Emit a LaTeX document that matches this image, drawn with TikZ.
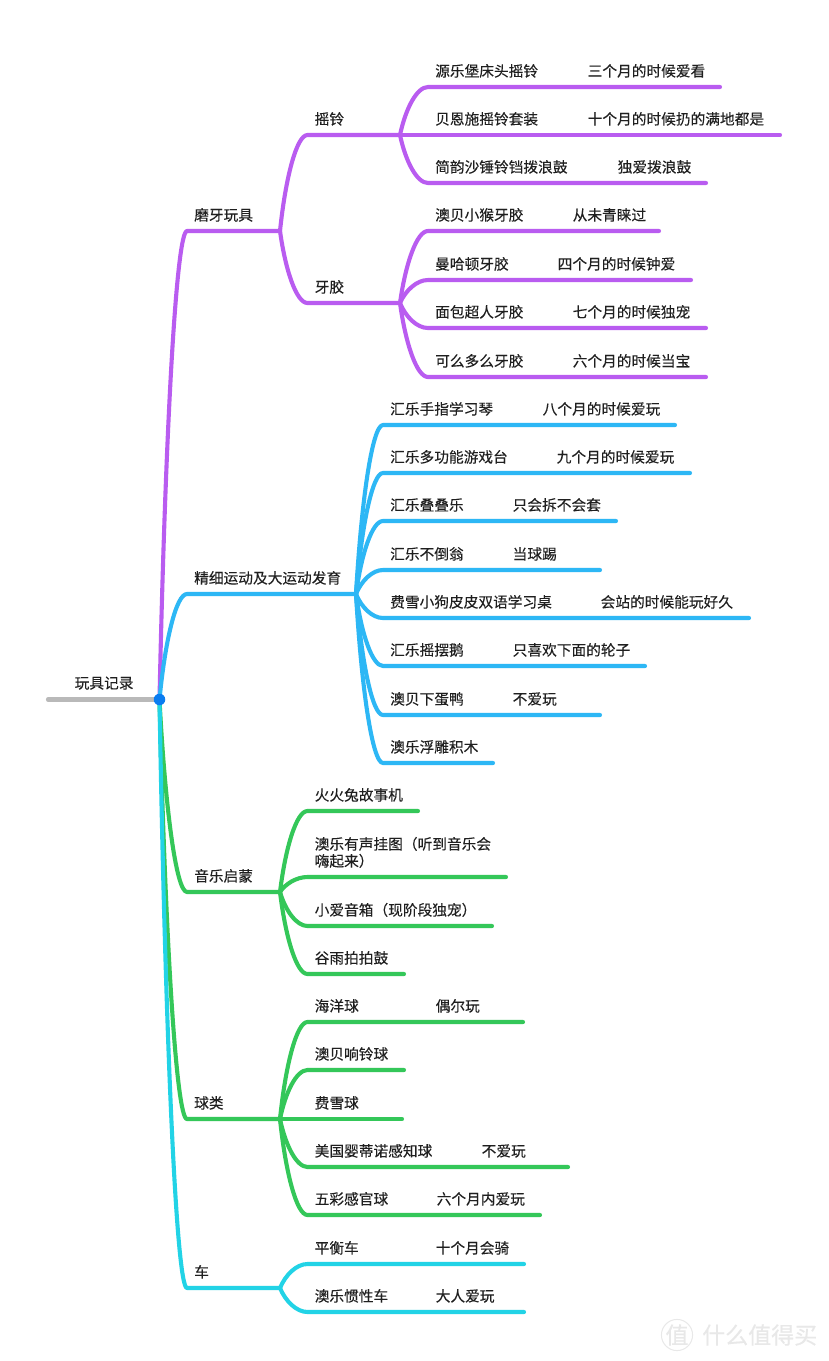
\documentclass[tikz,border=0pt]{standalone}
\usepackage{fontspec}
\setmainfont[FakeBold=0.15]{Noto Sans CJK SC}
\definecolor{grape}{HTML}{B95CF0}
\definecolor{sky}{HTML}{2DB7F5}
\definecolor{leaf}{HTML}{34C759}
\definecolor{aqua}{HTML}{22D3E6}
\definecolor{stem}{HTML}{B9B9B9}
\definecolor{hubblue}{HTML}{0A7CF0}
\definecolor{mark}{HTML}{E8E8E8}
\tikzset{
  bough/.style={line width=4.1pt,line cap=round,line join=round},
  lbl/.style={anchor=base west,inner sep=0pt,font=\fontsize{14.7}{17}\selectfont,text=black!88},
  hubdot/.style={circle,fill=hubblue,inner sep=0pt,minimum size=11.5pt},
  wm/.style={inner sep=0pt,font=\fontsize{23}{25}\selectfont,text=mark}
}
% name, parent, x start, x end, y, text
\newcommand{\Bough}[6]{%
  \coordinate (#1s) at (#3,#5);
  \coordinate (#1e) at (#4-1,#5);
  \draw[bough,twig] let \p1=(#2),\p2=(#1s) in (#2)
    .. controls ({\x1+0.2*(\x2-\x1)},{\y1+0.55*(\y2-\y1)}) and ({\x1+0.6*(\x2-\x1)},\y2) .. (#1s) -- (#1e);
  \node[lbl,align=left] (#1) at ($(#1s)+(7,-10.5)$) {#6};
}
% name of the bough, x, text
\newcommand{\Note}[3]{\node[lbl] (#1n) at (#2-0.5,0 |- #1.base) {#3};}
\usetikzlibrary{calc}
\begin{document}
\begin{tikzpicture}[x=1pt,y=-1pt]
\useasboundingbox (0,0) rectangle (828,1361);
\fill[white] (0,0) rectangle (828,1361);
% Root
\coordinate (hub) at (159.5,699.5);
\coordinate (rootend) at (48,699.5);
\draw[bough,stem] (rootend) -- (hub);
\node[lbl] (root) at (74.5,688.5) {玩具记录};
% Teething
\colorlet{twig}{grape}
\Bough{mo}{hub}{187}{281}{231}{磨牙玩具}
\Bough{yao}{moe}{307.5}{401}{135}{摇铃}
\Bough{ya}{moe}{307.5}{401}{303}{牙胶}
\Bough{a}{yaoe}{428}{721}{87}{源乐堡床头摇铃}
\Bough{b}{yaoe}{428}{781}{135}{贝恩施摇铃套装}
\Bough{c}{yaoe}{428}{707}{183}{简韵沙锤铃铛拨浪鼓}
\Bough{d}{yae}{428}{660}{231}{澳贝小猴牙胶}
\Bough{e}{yae}{428}{692}{280}{曼哈顿牙胶}
\Bough{f}{yae}{428}{707}{328}{面包超人牙胶}
\Bough{g}{yae}{428}{707}{377}{可么多么牙胶}
\Note{a}{588}{三个月的时候爱看}
\Note{b}{588}{十个月的时候扔的满地都是}
\Note{c}{618}{独爱拨浪鼓}
\Note{d}{573}{从未青睐过}
\Note{e}{558}{四个月的时候钟爱}
\Note{f}{573}{七个月的时候独宠}
\Note{g}{573}{六个月的时候当宝}
% Motor skills
\colorlet{twig}{sky}
\Bough{jing}{hub}{187}{357}{594}{精细运动及大运动发育}
\Bough{h}{jinge}{383}{676}{425}{汇乐手指学习琴}
\Bough{i}{jinge}{383}{691}{473}{汇乐多功能游戏台}
\Bough{j}{jinge}{383}{617}{521}{汇乐叠叠乐}
\Bough{k}{jinge}{383}{601}{570}{汇乐不倒翁}
\Bough{l}{jinge}{383}{750}{618}{费雪小狗皮皮双语学习桌}
\Bough{m}{jinge}{383}{646}{666}{汇乐摇摆鹅}
\Bough{n}{jinge}{383}{601}{715}{澳贝下蛋鸭}
\Bough{o}{jinge}{383}{494}{763}{澳乐浮雕积木}
\Note{h}{543}{八个月的时候爱玩}
\Note{i}{557}{九个月的时候爱玩}
\Note{j}{513}{只会拆不会套}
\Note{k}{513}{当球踢}
\Note{l}{601}{会站的时候能玩好久}
\Note{m}{513}{只喜欢下面的轮子}
\Note{n}{513}{不爱玩}
% Music
\colorlet{twig}{leaf}
\Bough{yin}{hub}{187}{281}{892}{音乐启蒙}
\Bough{p}{yine}{307.5}{419}{811}{火火兔故事机}
\Bough{q}{yine}{307.5}{507}{877}{澳乐有声挂图（听到音乐会\\嗨起来）}
\Bough{r}{yine}{307.5}{493}{926}{小爱音箱（现阶段独宠）}
\Bough{s}{yine}{307.5}{405}{974}{谷雨拍拍鼓}
% Balls
\Bough{qiu}{hub}{187}{281}{1119}{球类}
\Bough{t}{qiue}{307.5}{524}{1022}{海洋球}
\Bough{u}{qiue}{307.5}{405}{1070}{澳贝响铃球}
\Bough{v}{qiue}{307.5}{403}{1119}{费雪球}
\Bough{w}{qiue}{307.5}{569}{1167}{美国婴蒂诺感知球}
\Bough{x}{qiue}{307.5}{541}{1215}{五彩感官球}
\Note{t}{436}{偶尔玩}
\Note{w}{482}{不爱玩}
\Note{x}{437}{六个月内爱玩}
% Cars
\colorlet{twig}{aqua}
\Bough{che}{hub}{187}{281}{1288}{车}
\Bough{y}{chee}{307.5}{525}{1264}{平衡车}
\Bough{z}{chee}{307.5}{525}{1312}{澳乐惯性车}
\Note{y}{436}{十个月会骑}
\Note{z}{436}{大人爱玩}
\node[hubdot] (hubmark) at (hub) {};
% Watermark
\node[wm,circle,draw=mark,line width=1pt,minimum size=30pt] (wmo) at (677,1335) {值};
\node[wm,anchor=west] (wmt) at (702,1335) {什么值得买};
\end{tikzpicture}
\end{document}
